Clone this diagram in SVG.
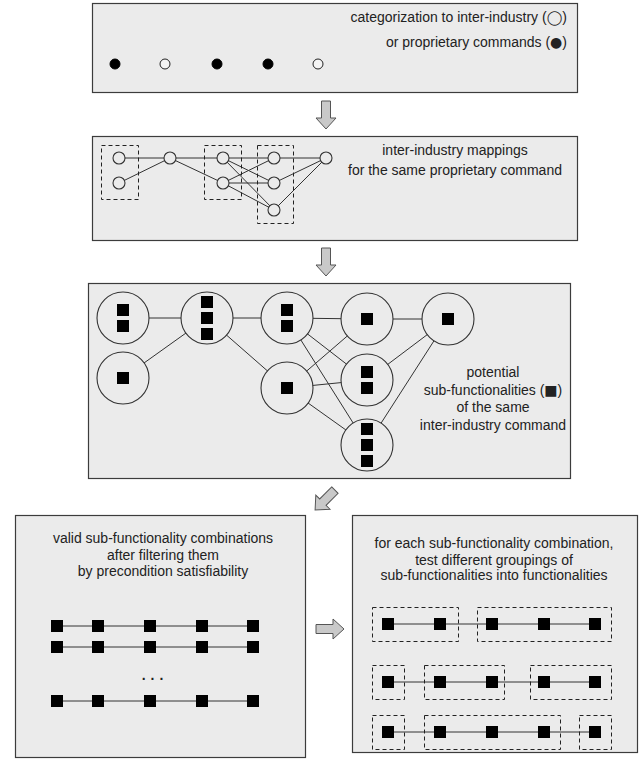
<svg xmlns="http://www.w3.org/2000/svg" width="644" height="760" viewBox="0 0 644 760">
<style>
.panel{fill:#ebebeb;stroke:#3c3c3c;stroke-width:1.2}
.t{font-family:"Liberation Sans",Arial,"DejaVu Sans",sans-serif;font-size:14px;fill:#222}
.g{font-family:"DejaVu Sans",sans-serif}
.c{text-anchor:middle}
.e{stroke:#333;stroke-width:1;fill:none}
.dash{fill:none;stroke:#222;stroke-width:1;stroke-dasharray:4,3}
.node{fill:#ebebeb;stroke:#333;stroke-width:1.1}
.arrow{fill:#c9c9c9;stroke:#555;stroke-width:1}
</style>
<defs>
<path id="blk" d="M-4.5,-14 H4.5 V3 H10 L0,14 L-10,3 H-4.5 Z"/>
<rect id="s" x="-6" y="-6" width="12" height="12"/>
</defs>

<!-- Panel 1 -->
<g id="panel1">
<rect class="panel" x="92.5" y="3.5" width="485" height="89"/>
<text class="t" x="567" y="22" text-anchor="end">categorization to inter-industry (<tspan class="g">◯</tspan>)</text>
<text class="t" x="567" y="47" text-anchor="end">or proprietary commands (<tspan class="g">●</tspan>)</text>
<circle cx="115" cy="64" r="5" fill="#000" stroke="#000"/>
<circle cx="165" cy="64" r="5" fill="#f4f4f4" stroke="#222"/>
<circle cx="217" cy="64" r="5" fill="#000" stroke="#000"/>
<circle cx="268" cy="64" r="5" fill="#000" stroke="#000"/>
<circle cx="318" cy="64" r="5" fill="#f4f4f4" stroke="#222"/>
</g>

<!-- Panel 2 -->
<g id="panel2">
<rect class="panel" x="92.5" y="136.5" width="485" height="104"/>
<text class="t c" x="455" y="155">inter-industry mappings</text>
<text class="t c" x="455" y="175">for the same proprietary command</text>
<g class="connectors">
<line class="e" x1="119" y1="158" x2="326" y2="158"/>
<line class="e" x1="119" y1="183" x2="170" y2="158"/>
<line class="e" x1="170" y1="158" x2="223" y2="183"/>
<line class="e" x1="223" y1="158" x2="274" y2="183"/>
<line class="e" x1="223" y1="158" x2="274" y2="210"/>
<line class="e" x1="223" y1="183" x2="274" y2="158"/>
<line class="e" x1="223" y1="183" x2="274" y2="183"/>
<line class="e" x1="223" y1="183" x2="274" y2="210"/>
<line class="e" x1="326" y1="158" x2="274" y2="183"/>
<line class="e" x1="326" y1="158" x2="274" y2="210"/>
</g>
<rect class="dash" x="101.5" y="145.5" width="37" height="54"/>
<rect class="dash" x="204.5" y="145.5" width="37" height="54"/>
<rect class="dash" x="257.5" y="145.5" width="36" height="78"/>
<circle class="node" cx="119" cy="158" r="6"/>
<circle class="node" cx="119" cy="183" r="6"/>
<circle class="node" cx="170" cy="158" r="6"/>
<circle class="node" cx="223" cy="158" r="6"/>
<circle class="node" cx="223" cy="183" r="6"/>
<circle class="node" cx="274" cy="158" r="6"/>
<circle class="node" cx="274" cy="183" r="6"/>
<circle class="node" cx="274" cy="210" r="6"/>
<circle class="node" cx="326" cy="158" r="6"/>
</g>

<!-- Panel 3 -->
<g id="panel3">
<rect class="panel" x="88.5" y="283.5" width="482" height="195"/>
<text class="t c" x="493" y="377">potential</text>
<text class="t c" x="493" y="395">sub-functionalities (<tspan class="g">■</tspan>)</text>
<text class="t c" x="493" y="412">of the same</text>
<text class="t c" x="493" y="430">inter-industry command</text>
<g class="connectors">
<line class="e" x1="123" y1="318" x2="287" y2="318"/>
<line class="e" x1="123" y1="378" x2="207" y2="318"/>
<line class="e" x1="207" y1="318" x2="287" y2="388"/>
<line class="e" x1="287" y1="318" x2="367" y2="319"/>
<line class="e" x1="287" y1="318" x2="367" y2="380"/>
<line class="e" x1="287" y1="318" x2="367" y2="445"/>
<line class="e" x1="287" y1="388" x2="367" y2="319"/>
<line class="e" x1="287" y1="388" x2="367" y2="380"/>
<line class="e" x1="287" y1="388" x2="367" y2="445"/>
<line class="e" x1="367" y1="319" x2="448" y2="319"/>
<line class="e" x1="448" y1="319" x2="367" y2="380"/>
<line class="e" x1="448" y1="319" x2="367" y2="445"/>
</g>
<g id="nA"><circle class="node" cx="123" cy="318" r="26"/><use href="#s" x="123" y="310"/><use href="#s" x="123" y="326"/></g>
<g id="nB"><circle class="node" cx="123" cy="378" r="26"/><use href="#s" x="123" y="378"/></g>
<g id="nC"><circle class="node" cx="207" cy="318" r="26"/><use href="#s" x="207" y="302"/><use href="#s" x="207" y="318"/><use href="#s" x="207" y="334"/></g>
<g id="nD"><circle class="node" cx="287" cy="318" r="26"/><use href="#s" x="287" y="310"/><use href="#s" x="287" y="326"/></g>
<g id="nE"><circle class="node" cx="287" cy="388" r="26"/><use href="#s" x="287" y="388"/></g>
<g id="nF"><circle class="node" cx="367" cy="319" r="26"/><use href="#s" x="367" y="319"/></g>
<g id="nG"><circle class="node" cx="448" cy="319" r="26"/><use href="#s" x="448" y="319"/></g>
<g id="nH"><circle class="node" cx="367" cy="380" r="26"/><use href="#s" x="367" y="372"/><use href="#s" x="367" y="388"/></g>
<g id="nI"><circle class="node" cx="367" cy="445" r="26"/><use href="#s" x="367" y="429"/><use href="#s" x="367" y="445"/><use href="#s" x="367" y="461"/></g>
</g>

<!-- Panel 4 -->
<g id="panel4">
<rect class="panel" x="15.5" y="515.5" width="290" height="242"/>
<text class="t c" x="163" y="543">valid sub-functionality combinations</text>
<text class="t c" x="163" y="560">after filtering them</text>
<text class="t c" x="163" y="576">by precondition satisfiability</text>
<g class="connectors">
<line class="e" x1="57" y1="626" x2="253" y2="626"/>
<line class="e" x1="57" y1="647" x2="253" y2="647"/>
<line class="e" x1="57" y1="701" x2="253" y2="701"/>
</g>
<g fill="#000">
<use href="#s" x="57" y="626"/><use href="#s" x="98" y="626"/><use href="#s" x="150" y="626"/><use href="#s" x="202" y="626"/><use href="#s" x="253" y="626"/>
<use href="#s" x="57" y="647"/><use href="#s" x="98" y="647"/><use href="#s" x="150" y="647"/><use href="#s" x="202" y="647"/><use href="#s" x="253" y="647"/>
<use href="#s" x="57" y="701"/><use href="#s" x="98" y="701"/><use href="#s" x="150" y="701"/><use href="#s" x="202" y="701"/><use href="#s" x="253" y="701"/>
</g>
<text class="t c" x="155" y="680" letter-spacing="5" font-weight="bold">...</text>
</g>

<!-- Panel 5 -->
<g id="panel5">
<rect class="panel" x="352.5" y="515.5" width="285" height="237"/>
<text class="t c" x="494" y="548">for each sub-functionality combination,</text>
<text class="t c" x="494" y="565">test different groupings of</text>
<text class="t c" x="494" y="580">sub-functionalities into functionalities</text>
<g class="connectors">
<line class="e" x1="388" y1="624" x2="595" y2="624"/>
<line class="e" x1="388" y1="682" x2="595" y2="682"/>
<line class="e" x1="388" y1="732" x2="595" y2="732"/>
</g>
<rect class="dash" x="372.5" y="607.5" width="86" height="34"/>
<rect class="dash" x="477.5" y="607.5" width="134" height="34"/>
<rect class="dash" x="372.5" y="665.5" width="32" height="34"/>
<rect class="dash" x="424.5" y="665.5" width="80" height="34"/>
<rect class="dash" x="530.5" y="665.5" width="81" height="34"/>
<rect class="dash" x="372.5" y="715.5" width="32" height="34"/>
<rect class="dash" x="424.5" y="715.5" width="136" height="34"/>
<rect class="dash" x="579.5" y="715.5" width="32" height="34"/>
<g fill="#000">
<use href="#s" x="388" y="624"/><use href="#s" x="440" y="624"/><use href="#s" x="492" y="624"/><use href="#s" x="544" y="624"/><use href="#s" x="595" y="624"/>
<use href="#s" x="388" y="682"/><use href="#s" x="440" y="682"/><use href="#s" x="492" y="682"/><use href="#s" x="544" y="682"/><use href="#s" x="595" y="682"/>
<use href="#s" x="388" y="732"/><use href="#s" x="440" y="732"/><use href="#s" x="492" y="732"/><use href="#s" x="544" y="732"/><use href="#s" x="595" y="732"/>
</g>
</g>

<!-- Block arrows between panels -->
<g id="flow-arrows">
<use href="#blk" class="arrow" transform="translate(326,115)"/>
<use href="#blk" class="arrow" transform="translate(326,262)"/>
<use href="#blk" class="arrow" transform="translate(325,500) rotate(45)"/>
<use href="#blk" class="arrow" transform="translate(330,629) rotate(-90)"/>
</g>
</svg>
